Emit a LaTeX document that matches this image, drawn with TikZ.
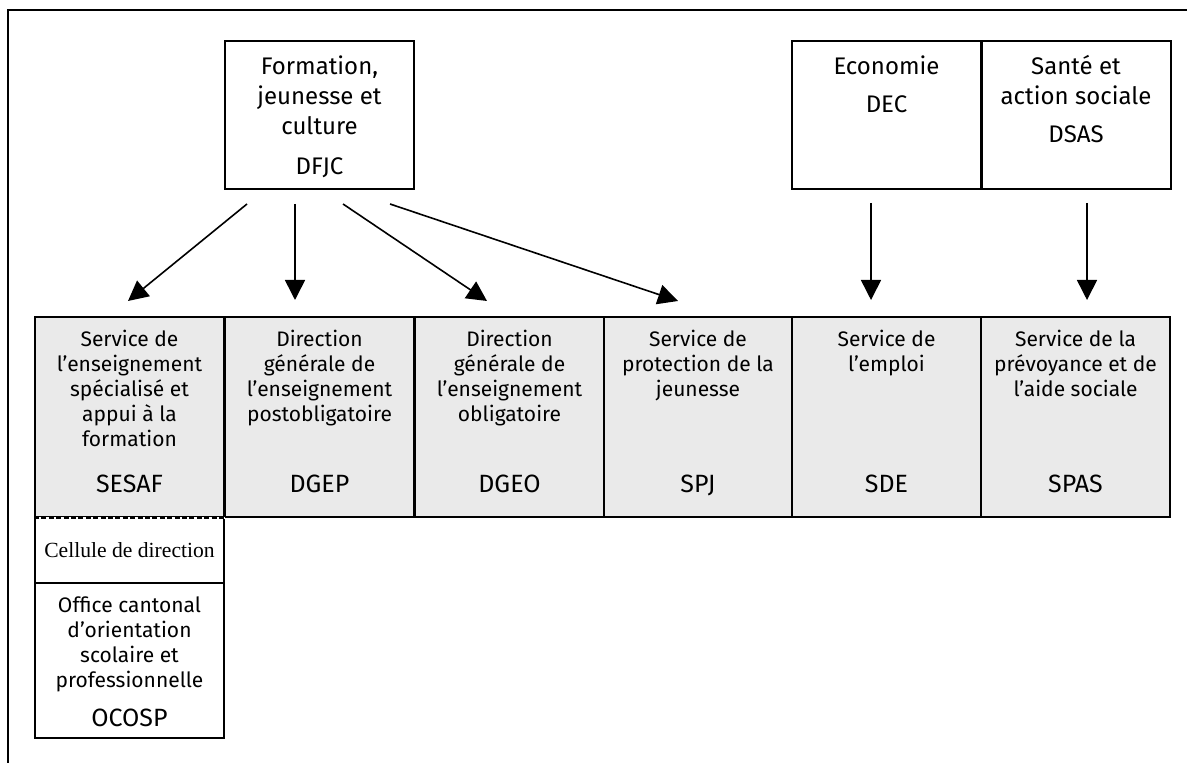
\documentclass[tikz,border=0pt]{standalone}
\usepackage{fontspec}
\setmainfont{Fira Sans}
\newfontfamily\cellfont{Liberation Serif}
\usetikzlibrary{arrows.meta,positioning}
\definecolor{boxgray}{RGB}{234,234,234}

\begin{document}
\begin{tikzpicture}[
  x=0.5pt, y=-0.5pt,
  dept/.style={rectangle, draw, line width=1pt, minimum width=94.5pt, minimum height=74pt, inner sep=0pt},
  serv/.style={rectangle, draw, line width=1pt, fill=boxgray, minimum width=94.5pt, minimum height=100pt, inner sep=0pt},
  toptxt/.style={align=center, font=\fontsize{12}{15}\selectfont, inner sep=0pt, anchor=north, yshift=-6.5pt},
  bottxt/.style={align=center, font=\fontsize{10.5}{12.5}\selectfont, inner sep=0pt, anchor=north, yshift=-6.25pt},
  abbr/.style={font=\fontsize{12.5}{15}\selectfont, inner sep=0pt, anchor=base},
  arr/.style={-{Triangle[length=10pt,width=10pt]}, line width=0.8pt}
]
\useasboundingbox (0,0) rectangle (1187,763);
\draw[line width=1.2pt] (1190,10) -- (8,10) -- (8,766);

% departements
\node[dept] (dfjc) at (319.5,115) {};
\node[dept] (dec) at (886.5,115) {};
\node[dept] (dsas) at (1076,115) {};
\node[toptxt] (dfjc-t) at (dfjc.north) {\strut Formation,\\jeunesse et\\culture\\[5pt]DFJC};
\node[toptxt] (dec-t) at (dec.north) {\strut Economie\\[4pt]DEC};
\node[toptxt] (dsas-t) at (dsas.north) {\strut Santé et\\action sociale\\[4pt]DSAS};

% services
\foreach \x/\nm/\txt/\ab in {
  129.5/sesaf/{Service de\\l’enseignement\\spécialisé et\\appui à la\\formation}/SESAF,
  319.5/dgep/{Direction\\générale de\\l’enseignement\\postobligatoire}/DGEP,
  509.5/dgeo/{Direction\\générale de\\l’enseignement\\obligatoire}/DGEO,
  698/spj/{Service de\\protection de la\\jeunesse}/SPJ,
  886.5/sde/{Service de\\l’emploi}/SDE,
  1075.5/spas/{Service de la\\prévoyance et de\\l’aide sociale}/SPAS} {
  \node[serv] (\nm) at (\x,417) {};
  \node[bottxt] (\nm-t) at (\nm.north) {\strut\txt};
  \node[abbr, yshift=12.5pt] (\nm-a) at (\nm.south) {\ab};
}

% sous-entites SESAF
\node[rectangle, draw, line width=1pt, minimum width=94.5pt, minimum height=33pt, inner sep=0pt] (cell) at (129.5,550) {};
\node[font=\cellfont\fontsize{10.8}{13}\selectfont, inner sep=0pt] (cell-t) at (cell) {Cellule de direction};
\node[rectangle, draw, line width=1pt, minimum width=94.5pt, minimum height=77.5pt, inner sep=0pt] (ocosp) at (129.5,660.5) {};
\node[bottxt] (ocosp-t) at (ocosp.north) {\strut Office cantonal\\d’orientation\\scolaire et\\professionnelle};
\node[abbr, yshift=6.5pt] (ocosp-a) at (ocosp.south) {OCOSP};
\draw[white, line width=1.2pt] (sesaf.south west) -- (sesaf.south east);
\draw[line width=0.8pt, dash pattern=on 2.5pt off 1.2pt] (sesaf.south west) -- (sesaf.south east);

% fleches
\coordinate (a1) at (247,204);  \coordinate (b1) at (128,301);
\coordinate (a2) at (295,204);  \coordinate (b2) at (295,300);
\coordinate (a3) at (343,204);  \coordinate (b3) at (487,301);
\coordinate (a4) at (390,204);  \coordinate (b4) at (678,301);
\coordinate (a5) at (871,203);  \coordinate (b5) at (871,300);
\coordinate (a6) at (1087,203); \coordinate (b6) at (1087,300);
\foreach \i in {1,...,6} \draw[arr] (a\i) -- (b\i);
\end{tikzpicture}
\end{document}
